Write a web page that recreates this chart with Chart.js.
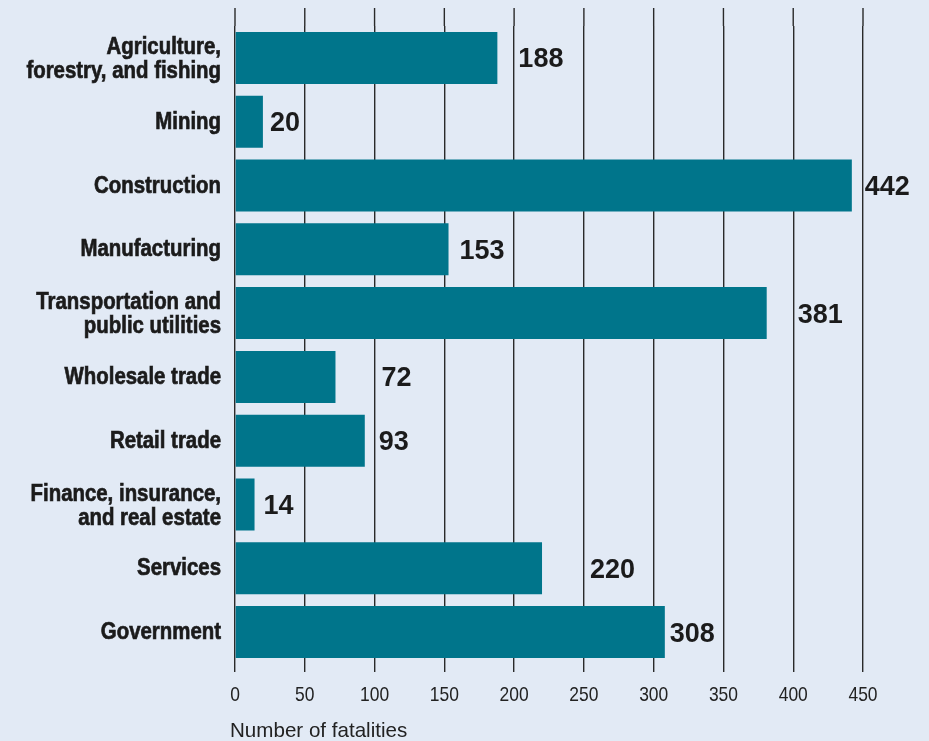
<!DOCTYPE html>
<html>
<head>
<meta charset="utf-8">
<script src="https://cdn.jsdelivr.net/npm/chart.js@4.4.0/dist/chart.umd.min.js"></script>
<style>
  html, body { margin: 0; padding: 0; background: #e2eaf5; }
  #wrap { width: 929px; height: 741px; position: relative; }
</style>
</head>
<body>
<div id="wrap"><canvas id="chart"></canvas></div>
<script>
/* 産業別の死亡者数: 横棒グラフ + 値ラベル(文字は細身書体が無いので横方向に縮めて描く) */

const INDUSTRIES = [
  ["Agriculture,", "forestry, and fishing"],
  "Mining",
  "Construction",
  "Manufacturing",
  ["Transportation and", "public utilities"],
  "Wholesale trade",
  "Retail trade",
  ["Finance, insurance,", "and real estate"],
  "Services",
  "Government",
];
const FATALITIES = [188, 20, 442, 153, 381, 72, 93, 14, 220, 308];
const X_TICKS = [0, 50, 100, 150, 200, 250, 300, 350, 400, 450];
const X_TITLE = "Number of fatalities";

// 値ラベルは原図どおり棒の端から少しずつ違う間隔で置かれている(px)
const LABEL_GAP = [21, 7, 13, 11, 31, 46, 14, 9, 48, 5];

const BAR = "#00758b";
const INK = "#1b1b1b";
const GRID = "#2a2a2a";
const SANS = "'Liberation Sans', Arial, Helvetica, sans-serif";

function narrowText(ctx, text, x, y, align, font, sx, heavy) {
  ctx.save();
  ctx.font = font;
  ctx.textAlign = align;
  ctx.textBaseline = "alphabetic";
  ctx.translate(x, y);
  ctx.scale(sx, 1);
  ctx.fillText(text, 0, 0);
  if (heavy) {
    // 原図の太いゴシックに寄せるため輪郭を少し足す
    ctx.strokeStyle = ctx.fillStyle;
    ctx.lineWidth = heavy;
    ctx.strokeText(text, 0, 0);
  }
  ctx.restore();
}

// 上端のはみ出した縦線(グリッドを上へ延長)
const gridTopPlugin = {
  id: "gridTop",
  beforeDatasetsDraw(chart) {
    const ctx = chart.ctx;
    const x = chart.scales.x;
    ctx.save();
    ctx.strokeStyle = GRID;
    ctx.lineWidth = 1.4;
    X_TICKS.forEach((v) => {
      const px = x.getPixelForValue(v);
      ctx.beginPath();
      ctx.moveTo(px, 8);
      ctx.lineTo(px, chart.chartArea.top);
      ctx.stroke();
    });
    ctx.restore();
  },
};

// 軸の文字(カテゴリ名・目盛・軸タイトル)
const axisTextPlugin = {
  id: "axisText",
  afterDraw(chart) {
    const ctx = chart.ctx;
    const x = chart.scales.x;
    const y = chart.scales.y;
    ctx.fillStyle = INK;
    INDUSTRIES.forEach((lab, i) => {
      const lines = Array.isArray(lab) ? lab : [lab];
      const cy = y.getPixelForTick(i);
      const base = cy + 7 - 11 * (lines.length - 1);
      lines.forEach((s, j) => narrowText(ctx, s, 221, base + j * 24, "right", `bold 24px ${SANS}`, 0.85, 0.7));
    });
    ctx.fillStyle = "#222";
    X_TICKS.forEach((v) => narrowText(ctx, String(v), x.getPixelForValue(v), 701, "center", `21px ${SANS}`, 0.83));
    narrowText(ctx, X_TITLE, 230, 737, "left", `21px ${SANS}`, 0.98);
  },
};

const valueLabelPlugin = {
  id: "valueLabels",
  afterDatasetsDraw(chart) {
    const ctx = chart.ctx;
    const meta = chart.getDatasetMeta(0);
    ctx.save();
    ctx.font = `bold 27px ${SANS}`;
    ctx.fillStyle = INK;
    ctx.textAlign = "left";
    ctx.textBaseline = "middle";
    meta.data.forEach((bar, i) => {
      ctx.fillText(String(FATALITIES[i]), bar.x + LABEL_GAP[i], bar.y + 2);
    });
    ctx.restore();
  },
};

new Chart(document.getElementById("chart"), {
  type: "bar",
  data: {
    labels: INDUSTRIES,
    datasets: [
      {
        data: FATALITIES,
        backgroundColor: BAR,
        borderWidth: 0,
        categoryPercentage: 1,
        barPercentage: 0.815,
      },
    ],
  },
  options: {
    indexAxis: "y",
    responsive: true,
    maintainAspectRatio: false,
    animation: false,
    layout: { padding: { top: 26, right: 66, bottom: 0, left: 0 } },
    plugins: { legend: { display: false }, tooltip: { enabled: false } },
    scales: {
      x: {
        min: 0,
        max: 450,
        afterBuildTicks: (s) => { s.ticks = X_TICKS.map((v) => ({ value: v })); },
        afterFit: (s) => { s.height = 77; },
        grid: { color: GRID, lineWidth: 1.4, tickLength: 8, drawTicks: true },
        border: { display: false },
        ticks: { display: false },
      },
      y: {
        afterFit: (s) => { s.width = 235; },
        grid: { display: false, drawTicks: false },
        border: { display: false },
        ticks: { display: false },
      },
    },
  },
  plugins: [gridTopPlugin, valueLabelPlugin, axisTextPlugin],
});
</script>
</body>
</html>
